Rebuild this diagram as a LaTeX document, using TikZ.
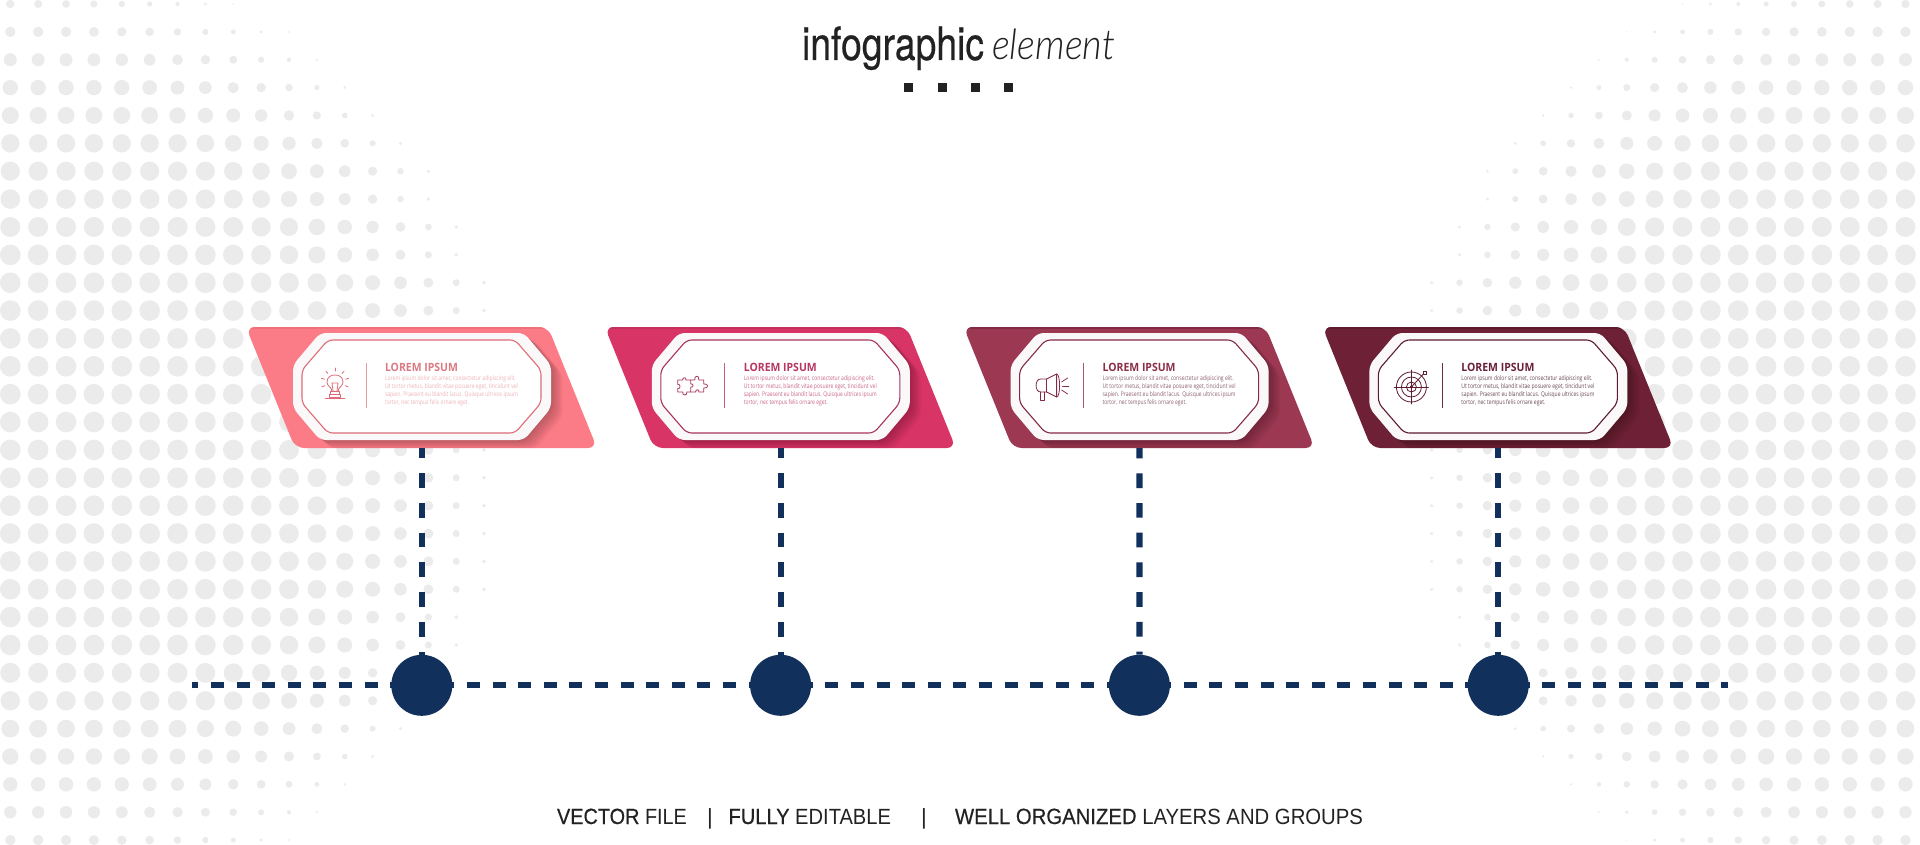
\documentclass[tikz,border=0pt]{standalone}
\usepackage{graphicx}
\usepackage{fontspec}
\setmainfont{Liberation Sans}
\newfontfamily\medf[FakeBold=0.5]{Liberation Sans}
\newfontfamily\heros[FakeBold=0.5]{TeX Gyre Heros}
\newfontfamily\opens{Open Sans}
\newfontfamily\thinit{Lato Light Italic}
\definecolor{navy}{HTML}{12305C}
\definecolor{dotgrey}{HTML}{EBEBEB}
\definecolor{ink}{HTML}{222222}
\definecolor{ringc}{HTML}{FAF8F8}
\newsavebox\fitbox
\newcommand\xfit[2]{\sbox\fitbox{#2}\pgfmathsetmacro\fitr{#1/\the\wd\fitbox}\scalebox{\fitr}[1]{\usebox\fitbox}}
\tikzset{
  lbl/.style={inner sep=0pt,outer sep=0pt,anchor=base west},
  hubdot/.style={circle,fill=navy,minimum size=61pt,inner sep=0pt},
  vdash/.style={draw=navy,line width=6.2pt,dash pattern=on 14.7pt off 15pt,dash phase=4.4pt},
  hdash/.style={draw=navy,line width=6.2pt,dash pattern=on 13pt off 12.6pt,dash phase=6.7pt},
  iconline/.style={line width=0.8pt,line join=round,line cap=round}
}
\newcommand\cardpath{[rounded corners=9pt] (246,327) -- (548,327) -- (597,448) -- (295,448) -- cycle}
\newcommand\octouter{[rounded corners=6pt] (293,365) -- (320,333) -- (524,333) -- (551,365) -- (551,408) -- (524,440) -- (320,440) -- (293,408) -- cycle}
\newcommand\octinner{[rounded corners=5pt] (302,370) -- (328,340) -- (515,340) -- (541,370) -- (541,403) -- (515,433) -- (328,433) -- (302,403) -- cycle}
% #1 index, #2 shift, #3 fill, #4 edge, #5 outline, #6 divider, #7 title, #8 body, #9 icon
\newcommand\cardunit[9]{%
\begin{scope}[shift={(#2,0)}]
  \definecolor{cfill}{HTML}{#3}\definecolor{cedge}{HTML}{#4}\definecolor{cline}{HTML}{#5}%
  \definecolor{cdiv}{HTML}{#6}\definecolor{ctitle}{HTML}{#7}\definecolor{cbody}{HTML}{#8}%
  \fill[cfill] \cardpath;
  \begin{scope}
    \clip \cardpath;
    \fill[cedge] (240,325) rectangle (610,329);
    \foreach \s in {1,...,9} {
      \fill[black,opacity=0.028,shift={(\s*1.3,\s*1.0)}] \octouter;
    }
  \end{scope}
  \fill[ringc] \octouter;
  \draw[cline,fill=white,line width=1.1pt] \octinner;
  \draw[cdiv,line width=1pt] (366,363) -- (366,408);
  \begin{scope}[shift={(335,387)},draw=cline,iconline]
    #9
  \end{scope}
  \node[lbl,text=ctitle] (title#1) at (385,371.7) {\xfit{73}{\opens\bfseries\fontsize{11.4}{12}\selectfont LOREM IPSUM}};
  \node[lbl,text=cbody] (bodya#1) at (385,380.2) {\xfit{131}{\opens\fontsize{6.4}{7}\selectfont Lorem ipsum dolor sit amet, consectetur adipiscing elit.}};
  \node[lbl,text=cbody] (bodyb#1) at (385,388.2) {\xfit{133}{\opens\fontsize{6.4}{7}\selectfont Ut tortor metus, blandit vitae posuere eget, tincidunt vel}};
  \node[lbl,text=cbody] (bodyc#1) at (385,396.2) {\xfit{133}{\opens\fontsize{6.4}{7}\selectfont sapien. Praesent eu blandit lacus. Quisque ultrices ipsum}};
  \node[lbl,text=cbody] (bodyd#1) at (385,404.2) {\xfit{84}{\opens\fontsize{6.4}{7}\selectfont tortor, nec tempus felis ornare eget.}};
  \coordinate (foot#1) at (421.8,448);
\end{scope}}
\begin{document}
\begin{tikzpicture}[x=1pt,y=-1pt]
\useasboundingbox (0,0) rectangle (1920,845);
\fill[white] (0,0) rectangle (1920,845);
% halftone field
\def\Xarr{{270,320,350,378,406,433,461,461,490,490,518,518,518,518,518,518,518,518,518,518,518,518,490,490,461,461,433,406,378,350,322}}
\def\Rarr{{4.2,5.2,6.5,7.7,8.5,9.2,9.6,9.8,10,10.3,10.3,10.3,10.3,10.3,10.3,10.3,10.3,10.3,10.3,10.3,10.3,10.3,10.3,10.3,10,9.7,8.9,8.2,7.2,6.2,5.2}}
\foreach \j in {0,...,30} {
  \pgfmathsetmacro\Xb{\Xarr[\j]}
  \pgfmathsetmacro\Rb{\Rarr[\j]}
  \pgfmathsetmacro\yy{4+27.87*\j}
  \foreach \i in {0,...,68} {
    \pgfmathsetmacro\xx{10.3+27.87*\i}
    \pgfmathsetmacro\tt{min(1,max((\Xb-\xx)/280,(\xx-1920+\Xb)/280))}
    \ifdim\tt pt>0pt
      \pgfmathsetmacro\rr{\Rb*sin(90*\tt)}
      \ifdim\rr pt>0.5pt
        \fill[dotgrey] (\xx,\yy) circle[radius=\rr];
      \fi
    \fi
  }
}
% heading
\node[lbl,text=ink] (headA) at (802,60) {\xfit{182}{\heros\fontsize{46}{46}\selectfont infographic}};
\node[lbl,text=ink] (headB) at (992,60) {\xfit{123}{\thinit\fontsize{42}{42}\selectfont element}};
\foreach \q/\qx in {1/904,2/938,3/971,4/1004} {
  \node[fill=ink,minimum size=9pt,inner sep=0pt,anchor=north west] (sq\q) at (\qx,83.3) {};
}
% timeline
\coordinate (hstart) at (192,685.3);
\coordinate (hend) at (1728,685.3);
\draw[hdash] (hstart) -- (hend);
\node[hubdot] (hub1) at (421.8,685.3) {};
\node[hubdot] (hub2) at (780.6,685.3) {};
\node[hubdot] (hub3) at (1139.4,685.3) {};
\node[hubdot] (hub4) at (1498.2,685.3) {};
% cards
\cardunit{1}{0}{FB7B86}{F06F7B}{DE6C78}{E89AA0}{DB7A84}{EDB3B8}{
  \draw (-3.5,4) -- (-3.5,2.5) .. controls (-4,0) and (-8,-1) .. (-8,-5) .. controls (-8,-10) and (-4,-12) .. (0,-12) .. controls (4,-12) and (8,-10) .. (8,-5) .. controls (8,-1) and (4,0) .. (3.5,2.5) -- (3.5,4);
  \draw (-2,4) -- (-3,-4) -- (3,-4) -- (2,4);
  \draw (-4.5,4) rectangle (4.5,7);
  \draw (-5.5,7) rectangle (5.5,10);
  \draw (-10,11.5) -- (10,11.5);
  \foreach \a in {-200,-165,-130,-90,-50,-15,20} {
    \draw ({11*cos(\a)},{-5+11*sin(\a)}) -- ({14*cos(\a)},{-5+14*sin(\a)});
  }
}
\cardunit{2}{358.8}{D93466}{C62E5C}{A8345E}{C85C80}{B8365F}{C9668A}{
  \draw (-16,-7) -- (-11,-7) .. controls (-12,-10) and (-7,-10) .. (-8,-7) -- (-3,-7) -- (-3,-3) .. controls (0,-4) and (0,1) .. (-3,0) -- (-3,5) -- (-7,5) .. controls (-6,9) and (-12,9) .. (-11,5) -- (-16,5) -- (-16,1.5) .. controls (-13,2.5) and (-13,-3.5) .. (-16,-2.5) -- cycle;
  \draw (-3,-7) -- (1,-7) .. controls (0,-12) and (6,-12) .. (5,-7) -- (10,-7) -- (10,-3) .. controls (15,-4) and (15,2) .. (10,1) -- (10,5) -- (5,5) .. controls (6,2) and (1,2) .. (2,5) -- (-3,5);
}
\cardunit{3}{717.6}{9C3852}{822A44}{832B45}{A0566C}{8B2F49}{8F6070}{
  \draw (-6,-8) -- (-12,-8) .. controls (-18,-8) and (-18,5) .. (-12,5) -- (-6,5) -- (4,10) -- (4,-13) -- cycle;
  \draw (-6,-8) -- (-6,5);
  \draw (4,-13) .. controls (8,-13) and (8,10) .. (4,10);
  \draw (-12,5) -- (-12,13) -- (-8,13) -- (-8,5);
  \draw (9,-5) -- (15,-9);
  \draw (10,-1) -- (16,-1);
  \draw (9,3) -- (15,7);
}
\cardunit{4}{1076.4}{6D2036}{5C1A2E}{5E1A30}{6B2A3E}{69203A}{6B4A55}{
  \draw (0,0) circle[radius=15];
  \draw (0,0) circle[radius=10];
  \draw (0,0) circle[radius=5];
  \filldraw[fill=cline] (0,0) circle[radius=1.2];
  \draw (-17,0) -- (17,0);
  \draw (0,-17) -- (0,17);
  \draw (0,0) -- (12,-13);
  \draw (12,-16) -- (15,-16) -- (15,-13) -- (12,-13) -- cycle;
}
% bottom strap
\node[lbl,text=ink] (vec) at (557,824) {\xfit{130}{\fontsize{22}{22}\selectfont{\medf VECTOR} FILE}};
\node[lbl,text=ink] (sep1) at (707,824) {\fontsize{22}{22}\selectfont |};
\node[lbl,text=ink] (ful) at (728.5,824) {\xfit{162.5}{\fontsize{22}{22}\selectfont{\medf FULLY} EDITABLE}};
\node[lbl,text=ink] (sep2) at (921,824) {\fontsize{22}{22}\selectfont |};
\node[lbl,text=ink] (wel) at (955,824) {\xfit{408}{\fontsize{22}{22}\selectfont{\medf WELL ORGANIZED} LAYERS AND GROUPS}};
% stems run from each card foot to its hub
\draw[vdash] (foot1) -- (hub1.north);
\draw[vdash] (foot2) -- (hub2.north);
\draw[vdash] (foot3) -- (hub3.north);
\draw[vdash] (foot4) -- (hub4.north);
\end{tikzpicture}
\end{document}
